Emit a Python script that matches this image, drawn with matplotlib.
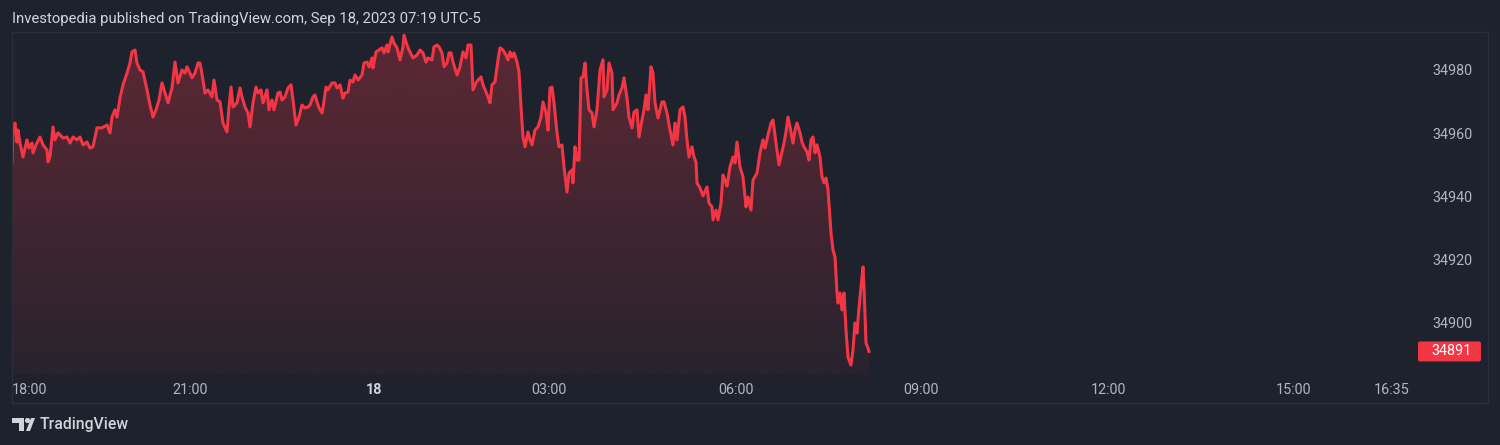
import numpy as np
import matplotlib
matplotlib.use("Agg")
import matplotlib.pyplot as plt
from matplotlib.patches import PathPatch, Rectangle, FancyBboxPatch, Circle, Polygon

plt.rcParams['font.family'] = ['Roboto', 'DejaVu Sans']

# ---- data (bar index ~ minutes since session open, last price) ----
bars = [0, 1, 3, 5, 6, 8, 11, 15, 17, 20, 21, 24, 28, 31, 35, 36, 38, 41, 43, 46,
        51, 55, 58, 61, 65, 68, 71, 75, 78, 81, 85, 90, 95, 98, 100, 103, 105, 108, 111, 115,
        118, 120, 123, 125, 128, 131, 135, 138, 141, 144, 147, 150, 153, 156, 160, 163, 166, 170, 173, 175,
        180, 183, 186, 188, 191, 193, 196, 200, 202, 205, 208, 211, 215, 217, 219, 221, 225, 228, 230, 233,
        236, 238, 241, 244, 246, 249, 251, 255, 257, 260, 262, 266, 268, 270, 273, 276, 279, 281, 284, 287,
        290, 293, 296, 298, 301, 303, 305, 307, 310, 311, 314, 316, 320, 323, 325, 328, 331, 333, 336, 338,
        341, 343, 346, 350, 352, 355, 357, 360, 361, 364, 367, 370, 372, 375, 376, 380, 382, 385, 388, 391,
        392, 395, 397, 401, 405, 408, 411, 414, 416, 420, 422, 425, 427, 430, 432, 435, 437, 439, 441, 445,
        448, 451, 454, 456, 459, 461, 464, 466, 469, 471, 474, 476, 478, 480, 483, 486, 488, 491, 494, 496,
        498, 500, 502, 505, 507, 509, 511, 513, 516, 518, 520, 523, 526, 529, 531, 534, 536, 538, 540, 542,
        545, 547, 550, 552, 555, 557, 560, 561, 563, 565, 567, 569, 571, 573, 575, 577, 580, 582, 585, 588,
        591, 592, 595, 597, 600, 601, 605, 607, 610, 612, 615, 617, 620, 622, 625, 627, 630, 632, 634, 636,
        639, 641, 643, 646, 650, 652, 655, 658, 661, 663, 665, 668, 671, 673, 675, 677, 680, 682, 684, 685,
        688, 691, 695, 697, 700, 701, 704, 706, 709, 711, 713, 715, 718, 721, 723, 725, 728, 731, 734, 736,
        739, 741, 745, 748, 751, 753, 756, 759, 761, 764, 767, 770, 772, 774, 776, 778, 781, 783, 785, 788,
        790, 792, 795, 797, 799, 801, 803, 805, 808, 810, 812, 814, 816, 819, 821, 823, 825, 826, 828, 830,
        832, 834, 836, 839, 841, 843, 845, 846, 848, 851, 852, 854, 856, 857]
prices = [34950.6, 34961.0, 34963.2, 34957.2, 34961.0, 34956.9, 34952.5, 34957.9, 34955.3, 34956.9,
          34953.8, 34956.3, 34958.8, 34956.3, 34954.7, 34950.9, 34952.5, 34962.0, 34957.9, 34960.1,
          34958.5, 34958.8, 34956.9, 34958.8, 34957.9, 34958.8, 34956.3, 34957.2, 34955.3, 34955.7,
          34961.7, 34961.7, 34962.6, 34960.1, 34965.1, 34967.4, 34965.1, 34971.1, 34975.3, 34979.0,
          34982.2, 34985.7, 34986.3, 34982.2, 34980.0, 34979.4, 34973.7, 34968.9, 34965.1, 34967.4,
          34970.5, 34975.9, 34972.7, 34969.6, 34974.3, 34982.5, 34975.9, 34980.0, 34979.0, 34981.0,
          34977.5, 34979.0, 34982.2, 34982.2, 34976.8, 34972.7, 34973.7, 34971.5, 34976.8, 34970.5,
          34969.9, 34963.2, 34960.4, 34968.3, 34974.6, 34968.3, 34969.6, 34974.3, 34971.5, 34968.3,
          34966.4, 34962.0, 34969.6, 34974.6, 34972.7, 34973.7, 34969.6, 34973.7, 34967.4, 34970.5,
          34967.4, 34972.7, 34973.0, 34970.5, 34971.5, 34974.3, 34975.3, 34970.5, 34962.6, 34965.1,
          34968.9, 34968.0, 34968.3, 34968.9, 34971.5, 34972.1, 34969.9, 34968.0, 34966.4, 34968.0,
          34974.6, 34973.7, 34975.9, 34975.9, 34974.3, 34975.3, 34971.1, 34972.7, 34973.0, 34976.8,
          34976.2, 34978.4, 34976.8, 34978.4, 34982.2, 34982.5, 34981.0, 34983.8, 34980.6, 34985.7,
          34986.3, 34987.0, 34985.4, 34987.9, 34985.7, 34990.4, 34988.5, 34987.0, 34983.2, 34987.3,
          34991.0, 34987.9, 34986.3, 34983.8, 34984.7, 34986.3, 34985.4, 34982.5, 34983.8, 34983.2,
          34987.3, 34987.9, 34987.3, 34985.4, 34981.0, 34982.2, 34985.4, 34985.4, 34982.5, 34978.4,
          34981.0, 34985.7, 34983.8, 34987.9, 34987.9, 34973.7, 34975.9, 34976.8, 34977.8, 34975.3,
          34973.0, 34971.5, 34969.6, 34975.3, 34976.2, 34983.2, 34987.0, 34986.3, 34984.7, 34983.2,
          34985.7, 34984.1, 34985.4, 34982.5, 34979.4, 34968.3, 34958.8, 34955.7, 34960.4, 34957.9,
          34956.3, 34961.0, 34962.0, 34965.1, 34969.9, 34966.4, 34961.0, 34974.3, 34974.6, 34969.6,
          34960.1, 34955.7, 34956.3, 34949.3, 34941.4, 34947.4, 34948.4, 34944.3, 34955.7, 34951.5,
          34951.5, 34977.5, 34977.8, 34982.2, 34973.7, 34967.4, 34966.4, 34962.0, 34967.4, 34980.0,
          34983.2, 34971.5, 34973.7, 34982.2, 34979.0, 34967.4, 34969.6, 34972.1, 34974.3, 34977.5,
          34971.1, 34965.1, 34961.7, 34966.7, 34967.4, 34958.8, 34964.2, 34967.4, 34972.1, 34967.4,
          34981.0, 34979.0, 34969.6, 34964.8, 34969.9, 34969.9, 34966.4, 34961.0, 34956.3, 34963.2,
          34957.9, 34967.4, 34968.3, 34965.1, 34957.9, 34952.5, 34955.7, 34952.5, 34950.9, 34944.3,
          34942.7, 34940.2, 34943.0, 34937.9, 34936.7, 34932.6, 34935.7, 34932.6, 34937.9, 34946.8,
          34945.2, 34943.3, 34949.3, 34952.5, 34950.6, 34957.2, 34949.3, 34946.2, 34936.7, 34939.8,
          34935.7, 34945.2, 34947.4, 34953.8, 34957.9, 34955.3, 34959.4, 34963.2, 34964.2, 34956.9,
          34950.0, 34954.1, 34956.9, 34960.4, 34965.1, 34962.0, 34956.9, 34961.0, 34963.2, 34960.1,
          34957.2, 34955.7, 34954.1, 34951.5, 34957.9, 34958.8, 34953.8, 34956.3, 34952.5, 34946.2,
          34944.3, 34945.8, 34942.1, 34928.5, 34923.1, 34920.9, 34909.5, 34906.3, 34909.5, 34904.1,
          34909.5, 34897.8, 34889.2, 34886.7, 34891.5, 34900.0, 34896.8, 34900.9, 34908.2, 34917.7,
          34911.4, 34893.7, 34892.1, 34891.0]

price_ticks = [34900, 34920, 34940, 34960, 34980]
time_ticks = [0, 178.5, 362, 537, 724, 909.5, 1096, 1281.6, 1380]
time_labels = ['18:00', '21:00', '18', '03:00', '06:00', '09:00', '12:00', '15:00', '16:35']
last_price = 34891
title = 'Investopedia published on TradingView.com, Sep 18, 2023 07:19 UTC-5'

# ---- style ----
BG = '#1e222d'
RED = '#f23645'
BORDER = '#2a2e39'
TXT = '#b2b5be'
TXT2 = '#d1d4dc'

W, H = 1500, 445
fig = plt.figure(figsize=(W / 100, H / 100), dpi=100, facecolor=BG)

def fx(px):
    return px / W

def fy(py):
    return 1 - py / H

ax_l, ax_r, ax_t, ax_b = 12, 1420, 32, 375
ax = fig.add_axes([fx(ax_l), fy(ax_b), fx(ax_r - ax_l), (ax_b - ax_t) / H])
ax.set_facecolor(BG)
for s in ax.spines.values():
    s.set_visible(False)

xmin, xmax = 0, 1408
ymin, ymax = 34883.56, 34992.0

x = np.array(bars, dtype=float)
y = np.array(prices)

# gradient area fill
poly = ax.fill_between(x, y, ymin, facecolor='none', edgecolor='none')
path = poly.get_paths()[0]
grad = np.zeros((256, 1, 4))
rgb = matplotlib.colors.to_rgb(RED)
grad[..., 0], grad[..., 1], grad[..., 2] = rgb
grad[..., 3] = np.linspace(0.05, 0.30, 256)[:, None]
im = ax.imshow(grad, extent=[x.min(), x.max(), ymin, y.max()], origin='lower',
               aspect='auto', zorder=1, interpolation='bilinear')
clip = PathPatch(path, transform=ax.transData, facecolor='none', edgecolor='none')
ax.add_patch(clip)
im.set_clip_path(clip)

ax.plot(x, y, color=RED, lw=2.2, zorder=3, solid_joinstyle='round')

ax.set_xlim(xmin, xmax)
ax.set_ylim(ymin, ymax)

# y axis on the right
ax.yaxis.tick_right()
ax.set_yticks(price_ticks)
ax.set_yticklabels([str(v) for v in price_ticks])
ax.tick_params(axis='y', length=0, pad=8.6, labelsize=10.4, labelcolor=TXT)

# x axis
ax.set_xticks(time_ticks)
ax.set_xticklabels(time_labels)
ax.tick_params(axis='x', length=0, pad=5.5, labelsize=10.4, labelcolor=TXT)
for lab in ax.get_xticklabels():
    if lab.get_text() == '18':
        lab.set_fontweight('bold')
        lab.set_color(TXT2)
    if lab.get_text() == '18:00':
        lab.set_ha('left')

# pane border
fig.patches.append(Rectangle((fx(12), fy(403)), fx(1488 - 12), (403 - 32) / H,
                             transform=fig.transFigure, facecolor='none',
                             edgecolor=BORDER, lw=1.0, zorder=0))

# last price label
fig.canvas.draw()
py_last = ax.transData.transform((0, last_price))[1]
bh = 20
fig.patches.append(FancyBboxPatch((1418, py_last - bh / 2), 1481 - 1418, bh,
                                  boxstyle='round,pad=0,rounding_size=2',
                                  transform=None, facecolor=RED, edgecolor='none', zorder=5))
fig.text(fx(1431), py_last / H, str(last_price), color='white', fontsize=10.4,
         ha='left', va='center', zorder=6)

# header
fig.text(fx(12), fy(19), title, color=TXT2, fontsize=10.75, ha='left', va='center')

# TradingView logo
logo_col = '#d1d4dc'
fig.patches.append(Rectangle((fx(12), fy(423)), fx(12), 5 / H, transform=fig.transFigure,
                             facecolor=logo_col, edgecolor='none'))
fig.patches.append(Rectangle((fx(18.5), fy(431)), fx(5.5), 13 / H, transform=fig.transFigure,
                             facecolor=logo_col, edgecolor='none'))
fig.patches.append(Circle((27.5, H - 420.5), 2.6, transform=None, facecolor=logo_col, edgecolor='none'))
fig.patches.append(Polygon([(26, H - 431), (31, H - 418), (35, H - 418), (30, H - 431)],
                           closed=True, transform=None, facecolor=logo_col, edgecolor='none'))
fig.text(fx(40), fy(425), 'TradingView', color=logo_col, fontsize=11.3, ha='left', va='center',
         fontweight='medium')

fig.savefig('out.png', dpi=100, facecolor=BG)
